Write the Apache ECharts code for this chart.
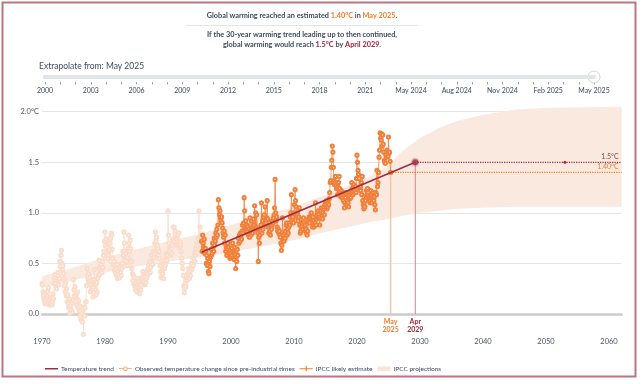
<!DOCTYPE html>
<html><head><meta charset="utf-8">
<script src="https://cdn.jsdelivr.net/npm/echarts@6/dist/echarts.min.js"></script>
<style>html,body{margin:0;padding:0;background:#fff}#c{width:642px;height:384px}</style>
</head><body><div id="c"></div>
<script>
// ---------- DATA ----------
const startYear = 1970; // monthly series, Jan 1970 .. May 2025
const obs1970s = [
 .30,.29,.22,.18,.15,.12,.10,.14,.20,.12,.18,.22,
 .26,.12,.09,.11,.14,.10,.16,.09,.12,.20,.15,.30,
 .36,.39,.30,.27,.25,.33,.41,.38,.29,.35,.52,.47,
 .58,.63,.50,.44,.48,.40,.35,.28,.22,.31,.18,.25,
 .12,.19,.10,.06,.15,.01,.08,.13,.04,.11,.02,.14,
 .34,.24,.18,.27,.12,.20,.09,.15,.22,.06,.13,.03,
 .08,-.02,-.06,.05,.01,-.08,.04,-.20,.07,-.02,.06,.12,
 .12,.28,.45,.37,.34,.40,.30,.36,.22,.29,.33,.25,
 .27,.17,.34,.26,.44,.30,.24,.19,.31,.22,.35,.38,
 .45,.53,.39,.47,.43,.49,.41,.52,.46,.58,.62,.72];
const obs1980s = [
 .81,.68,.74,.60,.66,.55,.62,.58,.70,.63,.75,.52,
 .80,.78,.64,.55,.49,.52,.43,.47,.40,.45,.38,.49,
 .35,.42,.39,.46,.36,.44,.41,.38,.45,.50,.62,.58,
 .81,.70,.62,.55,.60,.52,.48,.56,.65,.78,.70,.62,
 .73,.65,.52,.45,.40,.33,.38,.30,.36,.28,.24,.31,
 .27,.22,.35,.29,.32,.26,.20,.30,.24,.28,.36,.33,
 .42,.38,.32,.37,.29,.34,.31,.40,.36,.44,.39,.48,
 .45,.52,.41,.46,.58,.50,.55,.49,.62,.56,.60,.70,
 .81,.72,.76,.66,.68,.65,.58,.62,.55,.48,.42,.36,
 .38,.44,.40,.50,.35,.45,.52,.48,.55,.60,.53,.58];
const obs1990s = [
 1.02,.78,.70,.62,.66,.58,.65,.60,.68,.74,.86,.72,
 .86,.75,.82,.70,.74,.68,.78,.72,.69,.80,.66,.71,
 .68,.62,.55,.50,.45,.38,.28,.21,.25,.30,.27,.35,
 .33,.40,.36,.45,.40,.35,.42,.38,.46,.50,.44,.55,
 .48,.55,.60,.52,.58,.65,.62,.70,.60,.68,.75,1.02,
 .72,.86,.75,.68,.72,.62,.78,.70,.66,.74,.60,.65,
 .62,.50,.58,.48,.55,.42,.40,.52,.47,.56,.64,.58,
 .60,.70,.66,.62,.75,.68,.72,.80,.76,.84,.78,.88,
 1.13,1.05,.98,1.02,.95,.92,.96,.90,.85,.80,.76,.82,
 .70,.78,.62,.66,.58,.64,.70,.60,.66,.62,.55,.60];
const obs2000s = [
 .56,.65,.58,.70,.62,.60,.54,.66,.59,.45,.56,.52,
 .64,.58,.75,.70,.78,.72,.80,.76,.74,.82,.88,.80,
 .90,1.15,1.02,.86,.92,.84,.88,.82,.86,.78,.84,.76,
 .95,.82,.78,.85,.92,.80,.86,.94,.88,1.07,.84,1.00,
 .86,.98,.84,.80,.52,.76,.70,.78,.82,.88,1.10,.80,
 .92,.84,.96,.98,.88,1.06,.92,.90,.95,1.12,.94,.86,
 .80,.90,.82,.78,.86,.84,.88,.92,.90,.95,.98,1.05,
 1.33,1.00,.92,.96,.86,.82,.84,.80,.82,.78,.76,.70,
 .63,.68,.95,.78,.74,.72,.80,.75,.82,.88,.90,.78,
 .84,.80,.86,.90,.88,.96,1.00,1.18,.98,.94,.96,.90];
const obs2010s = [
 1.00,1.08,1.23,1.12,1.06,1.00,.98,.95,.92,.96,1.05,.88,
 .80,.82,.86,.90,.84,.92,.95,.90,.86,.88,.82,.84,
 .80,.78,.82,.92,.94,.96,.90,.95,.98,1.00,.96,.86,
 .96,.92,.86,.88,.90,1.10,.88,.94,.98,.96,1.02,.98,
 .95,.88,.96,1.02,1.05,.98,.94,1.00,1.04,1.06,.98,1.08,
 1.10,1.08,1.12,1.04,1.06,1.10,1.08,1.14,1.20,1.30,1.32,1.45,
 1.52,1.66,1.60,1.45,1.32,1.28,1.30,1.36,1.28,1.24,1.30,1.18,
 1.25,1.30,1.36,1.24,1.20,1.16,1.22,1.18,1.15,1.20,1.12,1.16,
 1.05,1.10,1.15,1.20,1.08,1.12,1.18,1.10,1.06,1.18,1.14,1.20,
 1.15,1.22,1.30,1.24,1.18,1.26,1.28,1.20,1.22,1.26,1.20,1.34];
const obs2020s = [
 1.57,1.50,1.42,1.38,1.34,1.24,1.26,1.22,1.30,1.18,1.36,1.12,
 1.08,1.04,1.10,1.06,1.12,1.16,1.22,1.18,1.24,1.20,1.16,1.14,
 1.12,1.10,1.22,1.15,1.10,1.18,1.14,1.20,1.12,1.16,1.08,1.03,
 1.20,1.18,1.42,1.26,1.30,1.40,1.55,1.62,1.79,1.74,1.72,1.78,
 1.66,1.77,1.68,1.60,1.52,1.50,1.49,1.58,1.55,1.62,1.60,1.56,
 1.75,1.59,1.60,1.51,1.40];
const windowStart = 1995 + 4/12;           // May 1995 (start of 30-year window)
const trendX = [1995 + 4/12, 2029 + 3/12]; // May 1995 -> Apr 2029
const trendY = [0.61, 1.50];
const estimateNow = 1.40;                  // estimated warming in May 2025
const nowX = 2025 + 4/12;                  // May 2025
const nowLineTop = 1.51;
const bandYears = [1970,1975,1980,1985,1990,1995,2000,2005,2010,2015,2020,2022,2025,2027,2030,2033,2036,2040,2045,2050,2062];
const bandLow   = [0.26,0.33,0.41,0.47,0.52,0.56,0.61,0.67,0.73,0.81,0.88,0.91,0.94,0.97,1.00,1.02,1.04,1.05,1.06,1.06,1.06];
const bandHigh  = [0.37,0.46,0.56,0.64,0.72,0.79,0.88,0.97,1.06,1.18,1.30,1.36,1.47,1.60,1.74,1.84,1.91,1.97,2.02,2.04,2.05];
const xTickLabels = [1970,1980,1990,2000,2010,2020,2030,2040,2050,2060];
const yTickLabels = ['0.0','0.5','1.0','1.5','2.0°C'];
const sliderLabels = ['2000','2003','2006','2009','2012','2015','2018','2021','May 2024','Aug 2024','Nov 2024','Feb 2025','May 2025'];
const markerLabels = ['May\n2025','Apr\n2029'];
const axisEnd = 2062;

// ---------- BUILD ----------
const observed = [].concat(obs1970s, obs1980s, obs1990s, obs2000s, obs2010s, obs2020s);
const pts = observed.map((v,i)=>[startYear + i/12, v]);
const splitIdx = Math.round((windowStart - startYear)*12);
const fadedPts = pts.slice(0, splitIdx+1);
const fullPts = pts.slice(splitIdx);
const sliderCats = [];
sliderLabels.forEach((l,i)=>{ sliderCats.push(l); if(i<sliderLabels.length-1){sliderCats.push('');sliderCats.push('');} });

const F = 'Lato';
const C = {text:'#3d4a5c', axis:'#4b5563', orange:'#f07d2a', red:'#a3243b', trend:'#9c2c43',
  obs:'#f0803a', obsFaded:'#fadccb', band:'#fae9df'};
const tiny = {symbol:'circle', symbolSize:0.1};
const frame = 'M0,0H.01V.01H0Z M0,8H.01V7.99H0Z ';

const chart = echarts.init(document.getElementById('c'), null, {renderer:'canvas'});
chart.setOption({
  animation:false,
  textStyle:{fontFamily:F},
  title:[
    {left:302, top:11.2, padding:0, textAlign:'center',
     text:'{a|Global warming reached an estimated }{o|'+estimateNow.toFixed(2)+'°C}{a| in }{o|May 2025}{a|.}',
     textStyle:{rich:{a:{fontSize:7.3,lineHeight:9.6,color:C.text,fontFamily:F},o:{fontSize:7.3,lineHeight:9.6,color:C.orange,fontWeight:'bold',fontFamily:F}}}},
    {left:302, top:29.9, padding:0, textAlign:'center',
     text:'{a|If the 30-year warming trend leading up to then continued,}\n{a|global warming would reach }{r|'+trendY[1].toFixed(1)+'°C}{a| by }{r|April 2029}{a|.}',
     textStyle:{rich:{a:{fontSize:7.3,lineHeight:9.6,color:C.text,fontFamily:F},r:{fontSize:7.3,lineHeight:9.6,color:C.red,fontWeight:'bold',fontFamily:F}}}},
    {left:39, top:61, padding:0, text:'Extrapolate from: May 2025',
     textStyle:{fontSize:8.5,lineHeight:10,fontWeight:'normal',color:C.text,fontFamily:F}}
  ],
  graphic:[
    {type:'rect', shape:{x:2.5,y:2.5,width:633,height:374}, style:{fill:'none',stroke:'#b97682',lineWidth:2}, silent:true},
    {type:'line', shape:{x1:186,y1:25.5,x2:418,y2:25.5}, style:{stroke:'#e3e5e8',lineWidth:1}, silent:true}
  ],
  legend:{
    left:40, top:360, itemWidth:13, itemHeight:8, itemGap:5,
    textStyle:{fontSize:6.5,color:C.text,fontFamily:F, padding:[0,0,0,-2]},
    data:[
      {name:'Temperature trend', icon:'path://'+frame+'M0,3.2H14V4.8H0Z', itemStyle:{color:C.trend,borderWidth:0}},
      {name:'Observed temperature change since pre-industrial times',
       icon:'path://'+frame+'M0,3.6H4.7V4.4H0Z M9.3,3.6H14V4.4H9.3Z M7,1.6A2.4,2.4 0 1 1 6.99,1.6Z M7,2.5A1.5,1.5 0 1 0 7.01,2.5Z',
       itemStyle:{color:'#f39a5c',borderWidth:0}},
      {name:'IPCC likely estimate', icon:'path://'+frame+'M0,3.4H14V4.6H0Z M6.4,1.2H7.6V6.8H6.4Z', itemStyle:{color:C.orange,borderWidth:0}},
      {name:'IPCC projections', icon:'path://'+frame+'M0,1.5H14V6.5H0Z', itemStyle:{color:'#fbe4d6',borderWidth:0}}
    ]
  },
  grid:[
    {left:42, right:642-621.6, top:111.7, bottom:70},
    {left:45, right:48, top:72, height:10}
  ],
  xAxis:[
    {type:'value', min:1970, max:axisEnd, interval:10,
     axisLine:{show:true,onZero:true,lineStyle:{color:'#cbcbcb',width:2.5}},
     axisTick:{show:false}, splitLine:{show:false},
     axisLabel:{margin:24,fontSize:7.5,color:C.axis,fontFamily:F,
       formatter:v=>xTickLabels.indexOf(v)>=0?String(v):''}},
    {gridIndex:1, type:'value', min:0, max:sliderCats.length-1, interval:1,
     axisLine:{show:false}, splitLine:{show:false},
     axisTick:{show:true,length:2.5,lineStyle:{color:'#9aa0a8',width:1}},
     axisLabel:{margin:5,fontSize:7,color:C.text,fontFamily:F,formatter:v=>sliderCats[v]||''}}
  ],
  yAxis:[
    {type:'value', min:0, max:2, interval:0.5,
     axisLine:{show:false}, axisTick:{show:false},
     splitLine:{lineStyle:{color:'#e6e6e6',width:1}},
     axisLabel:{margin:3,fontSize:7.5,color:C.axis,fontFamily:F,formatter:(v,i)=>yTickLabels[i]}},
    {gridIndex:1, type:'value', min:0, max:1, show:false}
  ],
  series:[
    {type:'custom', name:'IPCC projections', z:1, clip:false, silent:true,
     itemStyle:{color:'#fbe4d6'},
     data:[[bandYears[0], bandLow[0]]],
     renderItem:(params, api)=>{
       const up = bandYears.map((y,i)=>api.coord([y,bandHigh[i]]));
       const lo = bandYears.map((y,i)=>api.coord([y,bandLow[i]])).reverse();
       return {type:'polygon', shape:{points:up.concat(lo)}, style:{fill:C.band}};
     }},
    {type:'line', name:'Observed temperature change since pre-industrial times', z:3, clip:false,
     data:fullPts, symbol:'emptyCircle', symbolSize:3.2, showAllSymbol:true,
     lineStyle:{color:C.obs,width:0.8}, itemStyle:{color:C.obs,borderWidth:0.9}},
    {type:'line', name:'Observed temperature change since pre-industrial times', z:2, clip:false,
     data:fadedPts, symbol:'emptyCircle', symbolSize:3.2, showAllSymbol:true,
     lineStyle:{color:C.obsFaded,width:0.8}, itemStyle:{color:C.obsFaded,borderWidth:0.9}},
    {type:'line', name:'IPCC likely estimate', data:[], symbol:'none',
     lineStyle:{color:C.orange,width:1.2}, itemStyle:{color:C.orange}},
    // reference vertical lines
    {type:'line', z:2, symbol:'none', showSymbol:true, clip:false, silent:true,
     lineStyle:{color:'#f8c6a2',width:1.5},
     data:[Object.assign({value:[nowX,0], label:{show:true,position:'bottom',distance:3,formatter:markerLabels[0],
            color:C.orange,fontWeight:'bold',fontSize:7,lineHeight:8.5,fontFamily:F}}, tiny), [nowX,nowLineTop]]},
    {type:'line', z:2, symbol:'none', showSymbol:true, clip:false, silent:true,
     lineStyle:{color:'#d7838e',width:1},
     data:[Object.assign({value:[trendX[1],0], label:{show:true,position:'bottom',distance:3,formatter:markerLabels[1],
            color:C.red,fontWeight:'bold',fontSize:7,lineHeight:8.5,fontFamily:F}}, tiny), [trendX[1],trendY[1]]]},
    // horizontal dotted lines
    {type:'line', z:4, symbol:'none', showSymbol:true, clip:false, silent:true,
     lineStyle:{color:C.orange,width:1.2,type:'dotted'},
     data:[[nowX,estimateNow], Object.assign({value:[axisEnd,estimateNow], label:{show:true,position:'top',distance:2,align:'right',offset:[-3,0],
            formatter:p=>p.value[1].toFixed(2)+'°C',color:C.orange,fontSize:7,fontFamily:F}}, tiny)]},
    {type:'line', z:4, symbol:'none', showSymbol:true, clip:false, silent:true,
     lineStyle:{color:C.red,width:1.2,type:'dotted'},
     data:[[trendX[1],trendY[1]], {value:[2053,trendY[1]],symbol:'circle',symbolSize:3,itemStyle:{color:C.red}},
           Object.assign({value:[axisEnd,trendY[1]], label:{show:true,position:'top',distance:2,align:'right',offset:[-3,0],
            formatter:p=>p.value[1].toFixed(1)+'°C',color:'#8c3b4b',fontSize:7,fontFamily:F}}, tiny)]},
    {type:'line', name:'Temperature trend', z:5, symbol:'none', clip:false,
     data:trendX.map((x,i)=>[x,trendY[i]]), lineStyle:{color:C.trend,width:1.5}, itemStyle:{color:C.trend}},
    {type:'scatter', z:6, silent:true, data:[[trendX[1],trendY[1]]], symbolSize:6,
     itemStyle:{color:C.trend,borderColor:'rgba(156,44,67,0.3)',borderWidth:3}},
    // slider
    {type:'line', xAxisIndex:1, yAxisIndex:1, silent:true, symbol:'none', clip:false,
     data:[[-0.2,0.5],[sliderCats.length-1,0.5]], lineStyle:{color:'#e1e4e8',width:4,cap:'round'}},
    {type:'scatter', xAxisIndex:1, yAxisIndex:1, silent:true, data:[[sliderCats.length-1,0.5]], symbolSize:12,
     itemStyle:{color:'#ffffff',borderColor:'#c5c9cf',borderWidth:1}}
  ]
});
</script></body></html>
